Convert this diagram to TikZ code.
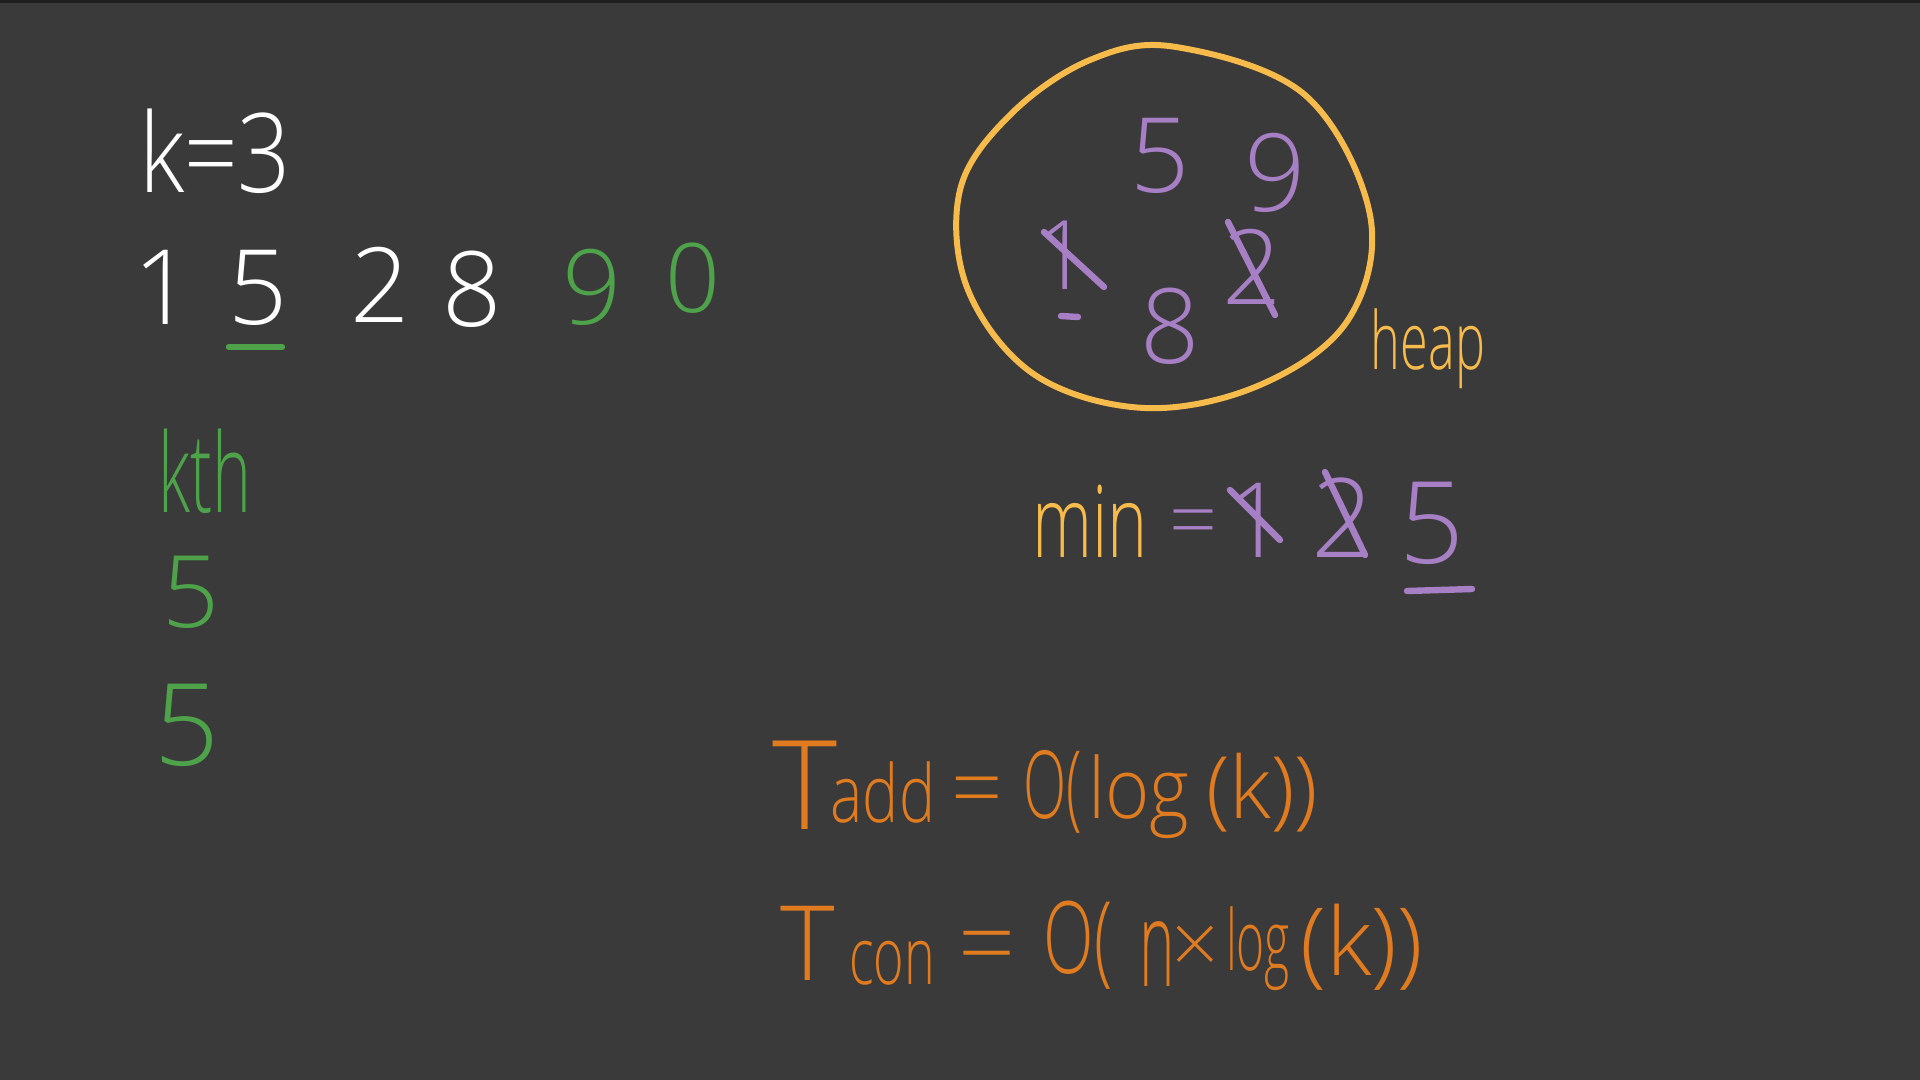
\documentclass[tikz,border=0pt]{standalone}
\usepackage{fontspec}
\setmainfont{Open Sans Light}
\usepackage{graphicx}
\definecolor{bg}{HTML}{3A3A3A}
\definecolor{topline}{HTML}{1E1E1E}
\definecolor{chalk}{HTML}{FFFFFF}
\definecolor{grn}{HTML}{4EA34A}
\definecolor{yel}{HTML}{F7BB4C}
\definecolor{pur}{HTML}{A77FC4}
\definecolor{org}{HTML}{E07B1F}
\newcommand{\fs}[1]{\fontsize{#1}{#1}\selectfont}
\newcommand{\sx}[2]{\scalebox{#1}[1]{#2}}
\tikzset{
  hw/.style={inner sep=0pt, outer sep=0pt, anchor=base},
  strike/.style={line width=3.2pt, line cap=round},
}
\begin{document}
\begin{tikzpicture}[x=0.5pt,y=-0.5pt]
\fill[bg] (0,0) rectangle (1920,1080);
\useasboundingbox (0,0) rectangle (1920,1080);
\fill[topline] (0,0) rectangle (1920,3);

% ---- left: k=3 and the stream
\node[hw, text=chalk] (k3) at (215,193) {\fs{55}\sx{0.85}{k=3}};
\node[hw, text=chalk] (d1) at (163,325) {\fs{52}1};
\node[hw, text=chalk] (d5) at (258,325) {\fs{52}5};
\node[hw, text=chalk] (d2) at (380,322) {\fs{52}2};
\node[hw, text=chalk] (d8) at (472,327) {\fs{52}8};
\node[hw, text=grn] (d9) at (592,325) {\fs{52}9};
\node[hw, text=grn] (d0) at (693,313) {\fs{48}0};
\draw[grn, strike] (229,347) -- (282,347);

\node[hw, text=grn] (kth) at (205,512) {\fs{55}\sx{0.6}{kth}};
\node[hw, text=grn] (g5a) at (191,627) {\fs{50}5};
\node[hw, text=grn] (g5b) at (187,765) {\fs{57}5};

% ---- heap
\draw[yel, line width=3pt] plot[smooth cycle, tension=0.6] coordinates {
  (1176,47) (1305,95) (1370,215) (1348,320) (1260,385) (1145,408)
  (1035,375) (968,290) (960,190) (1010,115) (1090,60)};
\node[hw, text=yel] (heap) at (1428,370) {\fs{40}\sx{0.63}{heap}};

\node[hw, text=pur] (h5) at (1160,193) {\fs{52}5};
\node[hw, text=pur] (h9) at (1275,212) {\fs{54}9};
\node[hw, text=pur] (h1) at (1063,290) {\fs{48}1};
\draw[pur, strike] (1044,232) -- (1104,287);
\draw[pur, strike] (1061,316) -- (1078,317);
\node[hw, text=pur] (h8) at (1170,364) {\fs{52}8};
\node[hw, text=pur] (h2) at (1252,305) {\fs{52}2};
\draw[pur, strike] (1228,222) -- (1275,315);

% ---- min line
\node[hw, text=yel] (min) at (1090,557) {\fs{50}\sx{0.68}{min}};
\node[hw, text=pur] (eq) at (1193,549) {\fs{42}=};
\node[hw, text=pur] (m1) at (1256,557) {\fs{52}1};
\draw[pur, strike] (1230,490) -- (1280,540);
\node[hw, text=pur] (m2) at (1343,557) {\fs{55}2};
\draw[pur, strike] (1325,472) -- (1365,555);
\node[hw, text=pur] (m5) at (1432,563) {\fs{57}5};
\draw[pur, strike] (1407,591) -- (1472,589);

% ---- T_add line
\node[hw, text=org] (tA) at (805,829) {\fs{62}T};
\node[hw, text=org] (add) at (883,822) {\fs{40}\sx{0.76}{add}};
\node[hw, text=org] (eqA) at (977,819) {\fs{45}=};
\node[hw, text=org] (oA) at (1053,818) {\fs{47}\sx{0.6}{O(}};
\node[hw, text=org] (logA) at (1139,818) {\fs{42}\sx{0.9}{log}};
\node[hw, text=org] (kA) at (1262,818) {\fs{43}(k))};

% ---- T_con line
\node[hw, text=org] (tC) at (808,980) {\fs{52}T};
\node[hw, text=org] (con) at (892,984) {\fs{40}\sx{0.65}{con}};
\node[hw, text=org] (eqC) at (987,978) {\fs{50}=};
\node[hw, text=org] (oC) at (1078,973) {\fs{50}\sx{0.66}{O(}};
\node[hw, text=org] (nC) at (1157,986) {\fs{50}\scalebox{0.6}[1.2]{n}};
\node[hw, text=org] (xC) at (1195,972) {\fs{40}×};
\node[hw, text=org] (logC) at (1258,970) {\fs{42}\sx{0.57}{log}};
\node[hw, text=org] (kC) at (1362,975) {\fs{47}(k))};
\end{tikzpicture}
\end{document}
